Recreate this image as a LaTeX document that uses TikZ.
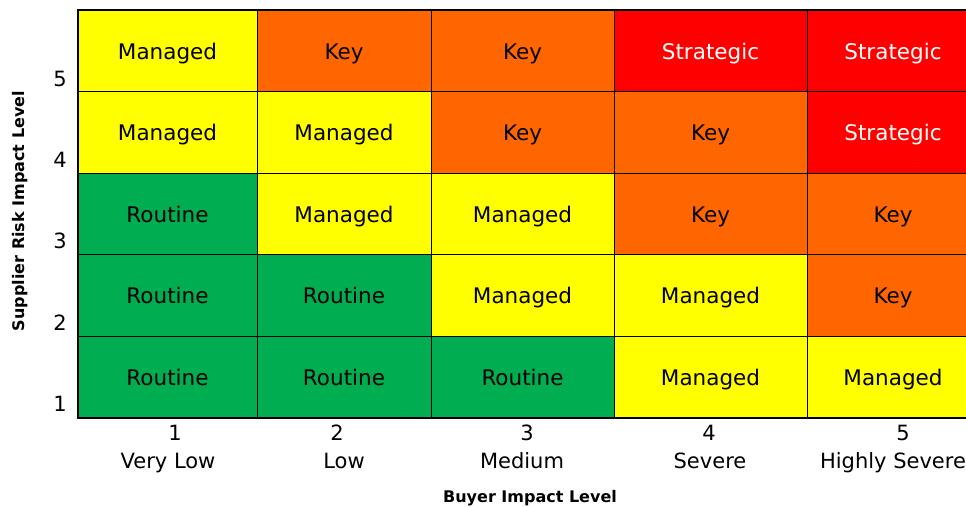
\documentclass[tikz,border=0pt]{standalone}
\usepackage{fontspec}
\setmainfont{DejaVu Sans}
\definecolor{cyel}{HTML}{FFFF00}
\definecolor{cora}{HTML}{FF6600}
\definecolor{cred}{HTML}{FF0000}
\definecolor{cgrn}{HTML}{00AD50}
\tikzset{
  cell/.style={draw=black, line width=0.8pt, inner sep=0pt, text height=20pt, text depth=4pt,
    font=\fontsize{21.5}{24}\selectfont, text=black},
  man/.style={cell, fill=cyel},
  keyc/.style={cell, fill=cora},
  strat/.style={cell, fill=cred, text=white},
  rout/.style={cell, fill=cgrn},
  c1/.style={minimum width=179pt}, c2/.style={minimum width=174pt},
  c3/.style={minimum width=183pt}, c4/.style={minimum width=193pt},
  c5/.style={minimum width=172pt},
  rowh/.style={minimum height=81.4pt},
  tick/.style={font=\fontsize{21}{24}\selectfont, inner sep=0pt, anchor=base},
  axtitle/.style={font=\fontsize{16}{18}\selectfont\bfseries, inner sep=0pt}
}
\begin{document}
\begin{tikzpicture}[x=1pt,y=-1pt]
\useasboundingbox (0,0) rectangle (966,506);
% row 5 (top)
\node[man,c1,rowh]   (r5c1) at (167.5,51)  {Managed};
\node[keyc,c2,rowh]  (r5c2) at (344,51)    {Key};
\node[keyc,c3,rowh]  (r5c3) at (522.5,51)  {Key};
\node[strat,c4,rowh] (r5c4) at (710.5,51)  {Strategic};
\node[strat,c5,rowh] (r5c5) at (893,51)    {Strategic};
% row 4
\node[man,c1,rowh]   (r4c1) at (167.5,132.5) {Managed};
\node[man,c2,rowh]   (r4c2) at (344,132.5)   {Managed};
\node[keyc,c3,rowh]  (r4c3) at (522.5,132.5) {Key};
\node[keyc,c4,rowh]  (r4c4) at (710.5,132.5) {Key};
\node[strat,c5,rowh] (r4c5) at (893,132.5)   {Strategic};
% row 3
\node[rout,c1,rowh]  (r3c1) at (167.5,214) {Routine};
\node[man,c2,rowh]   (r3c2) at (344,214)   {Managed};
\node[man,c3,rowh]   (r3c3) at (522.5,214) {Managed};
\node[keyc,c4,rowh]  (r3c4) at (710.5,214) {Key};
\node[keyc,c5,rowh]  (r3c5) at (893,214)   {Key};
% row 2
\node[rout,c1,rowh]  (r2c1) at (167.5,295.5) {Routine};
\node[rout,c2,rowh]  (r2c2) at (344,295.5)   {Routine};
\node[man,c3,rowh]   (r2c3) at (522.5,295.5) {Managed};
\node[man,c4,rowh]   (r2c4) at (710.5,295.5) {Managed};
\node[keyc,c5,rowh]  (r2c5) at (893,295.5)   {Key};
% row 1
\node[rout,c1,rowh]  (r1c1) at (167.5,377) {Routine};
\node[rout,c2,rowh]  (r1c2) at (344,377)   {Routine};
\node[rout,c3,rowh]  (r1c3) at (522.5,377) {Routine};
\node[man,c4,rowh]   (r1c4) at (710.5,377) {Managed};
\node[man,c5,rowh]   (r1c5) at (893,377)   {Managed};
% outer frame
\draw[line width=2pt] (r5c1.north west) rectangle (r1c5.south east);
% y ticks
\node[tick] (y5) at (60,86)  {5};
\node[tick] (y4) at (60,167.5) {4};
\node[tick] (y3) at (60,248.5) {3};
\node[tick] (y2) at (60,330) {2};
\node[tick] (y1) at (60,411) {1};
% x ticks
\node[tick] (x1) at (175,440) {1};
\node[tick] (x2) at (337,440) {2};
\node[tick] (x3) at (527,440) {3};
\node[tick] (x4) at (709,440) {4};
\node[tick] (x5) at (903,440) {5};
\node[tick] (w1) at (168,468) {Very Low};
\node[tick] (w2) at (344,468) {Low};
\node[tick] (w3) at (522,468) {Medium};
\node[tick] (w4) at (710,468) {Severe};
\node[tick] (w5) at (893,468) {Highly Severe};
% axis titles
\node[axtitle, anchor=base] (xt) at (530,502) {Buyer Impact Level};
\node[axtitle, rotate=90] (yt) at (20,211) {Supplier Risk Impact Level};
\end{tikzpicture}
\end{document}
